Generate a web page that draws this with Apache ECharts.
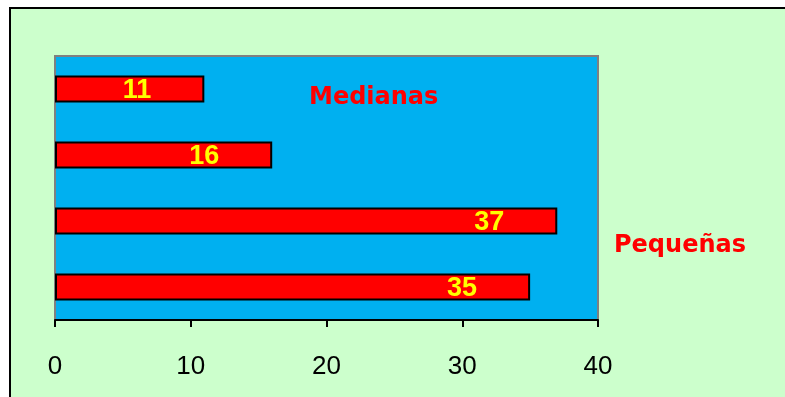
<!DOCTYPE html>
<html>
<head>
<meta charset="utf-8">
<script src="https://cdn.jsdelivr.net/npm/echarts@6/dist/echarts.min.js"></script>
<style>
	html, body { margin: 0; padding: 0; background: #fff; overflow: hidden; width: 785px; height: 397px; }
	#frame {
		position: absolute; left: 9px; top: 7px; width: 790px; height: 400px;
		background: #CCFFCC; border: 2px solid #000; box-sizing: border-box;
	}
	#main { position: absolute; left: 0; top: 0; width: 785px; height: 397px; }
</style>
</head>
<body>
<div id="frame"></div>
<div id="main"></div>
<script>
const categories = ['c1', 'c2', 'c3', 'c4'];
const values = [11, 16, 37, 35];
const xTicks = [0, 10, 20, 30, 40];
const groupNames = ['Medianas', 'Pequeñas'];

const chart = echarts.init(document.getElementById('main'));

const option = {
	backgroundColor: 'transparent',
	animation: false,
	grid: {
		left: 55,
		right: 187,
		top: 56,
		bottom: 77,
		show: true,
		backgroundColor: '#00B0F0',
		borderColor: '#808080',
		borderWidth: 2
	},
	xAxis: {
		type: 'value',
		min: xTicks[0],
		max: xTicks[xTicks.length - 1],
		interval: 10,
		splitLine: { show: false },
		axisLine: { show: true, lineStyle: { color: '#000', width: 2 } },
		axisTick: { show: true, length: 7, lineStyle: { color: '#000', width: 2 } },
		axisLabel: {
			margin: 34,
			color: '#000',
			fontFamily: 'Liberation Sans, Arial, sans-serif',
			fontSize: 26
		}
	},
	yAxis: {
		type: 'category',
		inverse: true,
		data: categories,
		axisLine: { show: false },
		axisTick: { show: false },
		axisLabel: { show: false }
	},
	series: [{
		type: 'bar',
		data: values,
		barWidth: 27,
		itemStyle: {
			color: '#FF0000',
			borderColor: '#000',
			borderWidth: 2
		},
		label: {
			show: true,
			position: 'insideRight',
			distance: 53,
			offset: [0, 2],
			color: '#FFFF00',
			fontFamily: 'Liberation Sans, Arial, sans-serif',
			fontWeight: 'bold',
			fontSize: 27
		}
	}],
	graphic: [
		{
			type: 'text',
			left: 309,
			top: 86,
			style: {
				text: groupNames[0],
				fill: '#FF0000',
				font: 'bold 24px "DejaVu Sans", Verdana, sans-serif'
			}
		},
		{
			type: 'text',
			left: 614,
			top: 234,
			style: {
				text: groupNames[1],
				fill: '#FF0000',
				font: 'bold 24px "DejaVu Sans", Verdana, sans-serif'
			}
		}
	]
};

chart.setOption(option);
</script>
</body>
</html>
